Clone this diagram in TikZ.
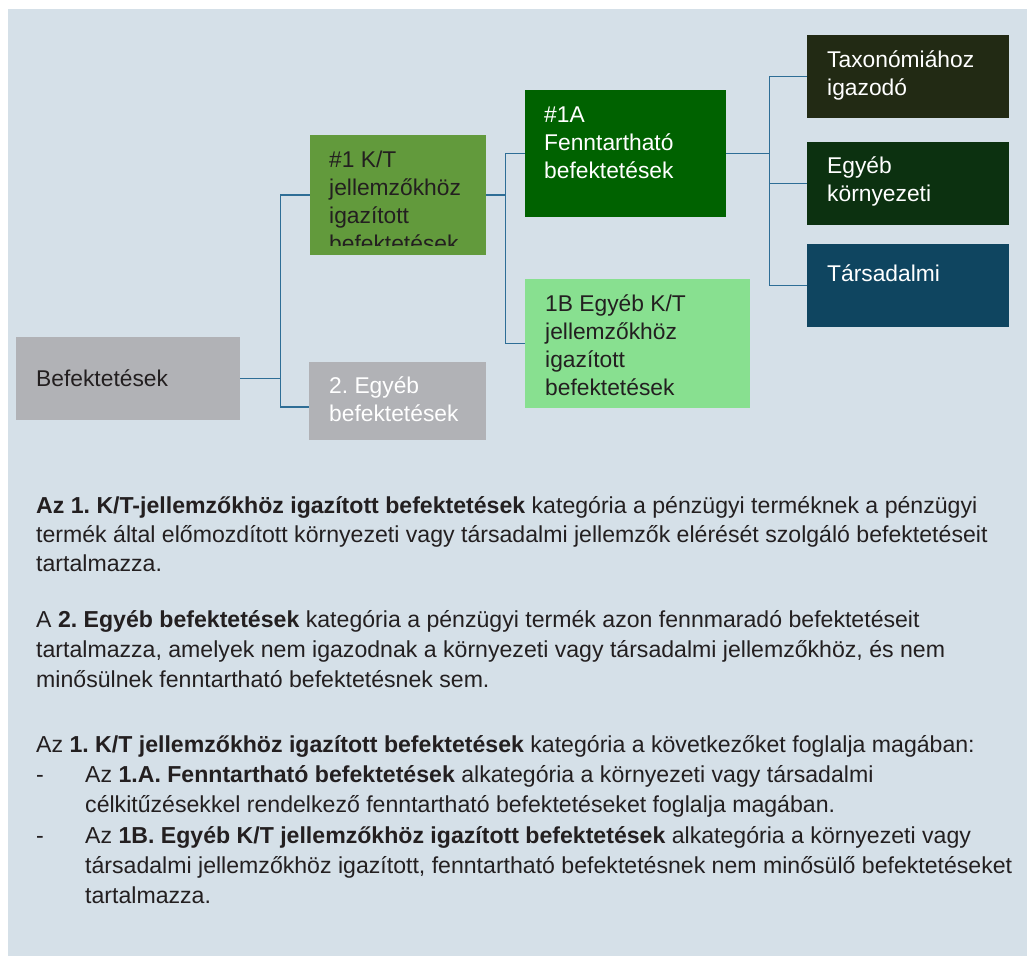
\documentclass[tikz,border=0pt]{standalone}
\usepackage{fontspec}
\setmainfont{Liberation Sans}
\frenchspacing

\definecolor{bgblue}{RGB}{213,224,232}
\definecolor{boxgray}{RGB}{177,178,182}
\definecolor{ktgreen}{RGB}{98,154,60}
\definecolor{sustgreen}{RGB}{0,98,0}
\definecolor{lightgreen}{RGB}{136,224,144}
\definecolor{taxdark}{RGB}{34,42,20}
\definecolor{envdark}{RGB}{12,49,16}
\definecolor{socblue}{RGB}{15,69,96}
\definecolor{linkblue}{RGB}{46,110,150}
\definecolor{inkdark}{RGB}{35,31,32}

\newcommand{\boxfont}{\fontsize{22.8}{28.3}\selectfont}
\newcommand{\bodyfont}{\fontsize{23.1}{30}\selectfont}

\begin{document}
\begin{tikzpicture}[x=1pt, y=-1pt,
	catbox/.style={rectangle, inner sep=0pt, anchor=north west, draw=none},
	boxtext/.style={anchor=base west, align=left, inner sep=0pt, font=\boxfont, text=inkdark},
	bodytext/.style={anchor=base west, align=left, inner sep=0pt, font=\bodyfont, text=inkdark},
	conn/.style={draw=linkblue, line width=1.5pt}]
	\useasboundingbox (0,0) rectangle (1029,956);
	\fill[white] (0,0) rectangle (1029,956);
	\fill[bgblue] (8,9) rectangle (1027,956);

	\node[catbox, fill=boxgray, minimum width=224pt, minimum height=83pt] (befek) at (16,337) {};
	\node[catbox, fill=ktgreen, minimum width=176pt, minimum height=120pt] (kt1) at (310,135) {};
	\node[catbox, fill=boxgray, minimum width=177pt, minimum height=78pt] (egyeb2) at (309,362) {};
	\node[catbox, fill=sustgreen, minimum width=201pt, minimum height=127pt] (fennt) at (525,90) {};
	\node[catbox, fill=lightgreen, minimum width=225pt, minimum height=129pt] (egyebkt) at (525,279) {};
	\node[catbox, fill=taxdark, minimum width=202pt, minimum height=83pt] (taxo) at (807,35) {};
	\node[catbox, fill=envdark, minimum width=202pt, minimum height=83pt] (kornyez) at (807,142) {};
	\node[catbox, fill=socblue, minimum width=202pt, minimum height=83pt] (tarsad) at (807,244) {};

	% base anchor sits on the last line
	\node[boxtext] (befek-t) at ([shift={(20,49)}]befek.north west) {Befektetések};
	\begin{scope}
		\clip (310,135) rectangle (486,245);
		\node[boxtext] (kt1-t) at ([shift={(19,116.9)}]kt1.north west) {\#1 K/T\\jellemzőkhöz\\igazított\\befektetések};
	\end{scope}
	\node[boxtext, text=white] (egyeb2-t) at ([shift={(20,59.3)}]egyeb2.north west) {2. Egyéb\\befektetések};
	\node[boxtext, text=white] (fennt-t) at ([shift={(19,88.6)}]fennt.north west) {\#1A\\Fenntartható\\befektetések};
	\node[boxtext] (egyebkt-t) at ([shift={(20,116.9)}]egyebkt.north west) {1B Egyéb K/T\\jellemzőkhöz\\igazított\\befektetések};
	\node[boxtext, text=white] (taxo-t) at ([shift={(20,60.3)}]taxo.north west) {Taxonómiához\\igazodó};
	\node[boxtext, text=white] (kornyez-t) at ([shift={(20,59.3)}]kornyez.north west) {Egyéb\\környezeti};
	\node[boxtext, text=white] (tarsad-t) at ([shift={(20,37)}]tarsad.north west) {Társadalmi};

	\draw[conn] (befek.east) -- ++(40,0) |- (kt1.west);
	\draw[conn] (befek.east) -- ++(40,0) |- ([yshift=-6pt]egyeb2.west);
	\draw[conn] (kt1.east) -- ++(19,0) |- (fennt.west);
	\draw[conn] (kt1.east) -- ++(19,0) |- (egyebkt.west);
	\draw[conn] (fennt.east) -- ++(43,0) |- (taxo.west);
	\draw[conn] (fennt.east) -- ++(43,0) |- (kornyez.west);
	\draw[conn] (fennt.east) -- ++(43,0) |- (tarsad.west);

	\node[bodytext, font=\fontsize{23.1}{29}\selectfont] (para1) at (36,571) {\textbf{Az 1. K/T-jellemzőkhöz igazított befektetések} kategória a pénzügyi terméknek a pénzügyi\\termék által előmozdított környezeti vagy társadalmi jellemzők elérését szolgáló befektetéseit\\tartalmazza.};
	\node[bodytext] (para2) at (36,687) {A \textbf{2. Egyéb befektetések} kategória a pénzügyi termék azon fennmaradó befektetéseit\\tartalmazza, amelyek nem igazodnak a környezeti vagy társadalmi jellemzőkhöz, és nem\\minősülnek fenntartható befektetésnek sem.};
	\node[bodytext] (para3) at (36,752) {Az \textbf{1. K/T jellemzőkhöz igazított befektetések} kategória a következőket foglalja magában:};
	\node[bodytext] (dash1) at (36,782) {-};
	\node[bodytext] (item1) at (85,812) {Az \textbf{1.A. Fenntartható befektetések} alkategória a környezeti vagy társadalmi\\célkitűzésekkel rendelkező fenntartható befektetéseket foglalja magában.};
	\node[bodytext] (dash2) at (36,843) {-};
	\node[bodytext] (item2) at (85,903) {Az \textbf{1B. Egyéb K/T jellemzőkhöz igazított befektetések} alkategória a környezeti vagy\\társadalmi jellemzőkhöz igazított, fenntartható befektetésnek nem minősülő befektetéseket\\tartalmazza.};
\end{tikzpicture}
\end{document}
